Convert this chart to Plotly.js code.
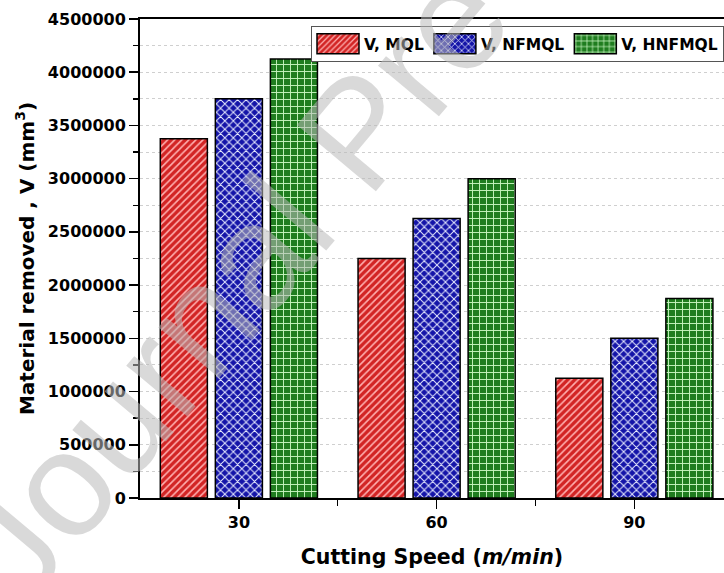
<!DOCTYPE html>
<html>
<head>
<meta charset="utf-8">
<script src="https://cdn.plot.ly/plotly-3.0.1.min.js"></script>
<style>
  html, body { margin: 0; padding: 0; background: #fff; }
  #chart { width: 724px; height: 573px; }
</style>
</head>
<body>
<div id="chart"></div>
<script>
// Cutting speed levels (m/min)
const speeds = [30, 60, 90];

// Material removed, V (mm^3), per lubrication condition
const mql    = [3375000, 2250000, 1125000];
const nfmql  = [3750000, 2625000, 1500000];
const hnfmql = [4125000, 3000000, 1875000];

const seriesNames = ['V, MQL', 'V, NFMQL', 'V, HNFMQL'];

const yTicks = [0, 500000, 1000000, 1500000, 2000000, 2500000, 3000000, 3500000, 4000000, 4500000];

const FONT = 'DejaVu Sans, Arial, sans-serif';

function barTrace(name, values, bg, fg, shape, size, solidity) {
  return {
    type: 'bar',
    name: name,
    x: speeds,
    y: values,
    marker: {
      color: bg,
      line: { color: '#000', width: 1.5 },
      pattern: { shape: shape, bgcolor: bg, fgcolor: fg, size: size, solidity: solidity, fillmode: 'replace' }
    },
    hoverinfo: 'x+y'
  };
}

const data = [
  barTrace(seriesNames[0], mql,    '#d22424', '#ffb0b0', '/', 5, 0.32),
  barTrace(seriesNames[1], nfmql,  '#1414a8', '#e8ecff', 'x', 6, 0.3),
  barTrace(seriesNames[2], hnfmql, '#1f7d1f', '#c8f5c0', '+', 7, 0.25)
];

const layout = {
  width: 724,
  height: 573,
  margin: { l: 140, r: 0, t: 19, b: 75 },
  paper_bgcolor: '#fff',
  plot_bgcolor: '#fff',
  barmode: 'group',
  bargap: 0.165,
  bargroupgap: 0.145,
  font: { family: FONT, color: '#000' },
  showlegend: true,
  legend: {
    orientation: 'h',
    x: 1, xanchor: 'right',
    y: 0.985, yanchor: 'top',
    bgcolor: '#fff',
    bordercolor: '#555',
    borderwidth: 1,
    font: { family: FONT, size: 15.5, weight: 'bold', color: '#000' },
    itemwidth: 42,
    traceorder: 'normal'
  },
  xaxis: {
    range: [15, 103.6],
    tickmode: 'array',
    tickvals: speeds,
    ticktext: speeds.map(String),
    ticks: 'outside',
    ticklen: 9,
    tickwidth: 1.5,
    tickcolor: '#000',
    showline: true,
    linecolor: '#000',
    linewidth: 2,
    mirror: true,
    showgrid: false,
    zeroline: false,
    tickfont: { family: FONT, size: 16, weight: 'bold', color: '#000' },
    minor: { tickmode: 'array', tickvals: [45, 75], ticks: 'outside', ticklen: 6, tickwidth: 1.5, tickcolor: '#000', showgrid: false },
    title: {
      text: 'Cutting Speed (<i>m/min</i>)',
      font: { family: FONT, size: 20.5, weight: 'bold', color: '#000' },
      standoff: 18
    }
  },
  yaxis: {
    range: [0, 4500000],
    tickmode: 'array',
    tickvals: yTicks,
    ticktext: yTicks.map(String),
    ticks: 'outside',
    ticklen: 9,
    tickwidth: 1.5,
    tickcolor: '#000',
    showline: true,
    linecolor: '#000',
    linewidth: 2,
    mirror: false,
    showgrid: false,
    zeroline: false,
    tickfont: { family: FONT, size: 16, weight: 'bold', color: '#000' },
    minor: {
      dtick: 250000,
      tick0: 0,
      ticks: 'outside',
      ticklen: 5,
      tickwidth: 1.5,
      tickcolor: '#000',
      showgrid: true,
      gridcolor: '#cfcfcf',
      griddash: 'dot',
      gridwidth: 1
    },
    title: {
      text: 'Material removed , V (mm<sup>3</sup>)',
      font: { family: FONT, size: 20, weight: 'bold', color: '#000' },
      standoff: 8
    }
  },
  annotations: [{
    text: 'Journal Pre-proof',
    xref: 'paper', yref: 'paper',
    x: 0.373, y: 0.764,
    xanchor: 'center', yanchor: 'middle',
    showarrow: false,
    textangle: -50,
    font: { family: 'Liberation Sans, Arial, sans-serif', size: 150, color: 'rgba(185,185,185,0.55)' }
  }]
};

// Widen the legend swatches into wide rectangles like the bar key boxes
function widenLegendSwatches() {
  document.querySelectorAll('#chart .legend .legendpoints path').forEach(p => {
    p.setAttribute('d', 'M21,10H-21V-10H21Z');
  });
}

Plotly.newPlot('chart', data, layout, { displayModeBar: false, staticPlot: true })
  .then(widenLegendSwatches);
</script>
</body>
</html>
